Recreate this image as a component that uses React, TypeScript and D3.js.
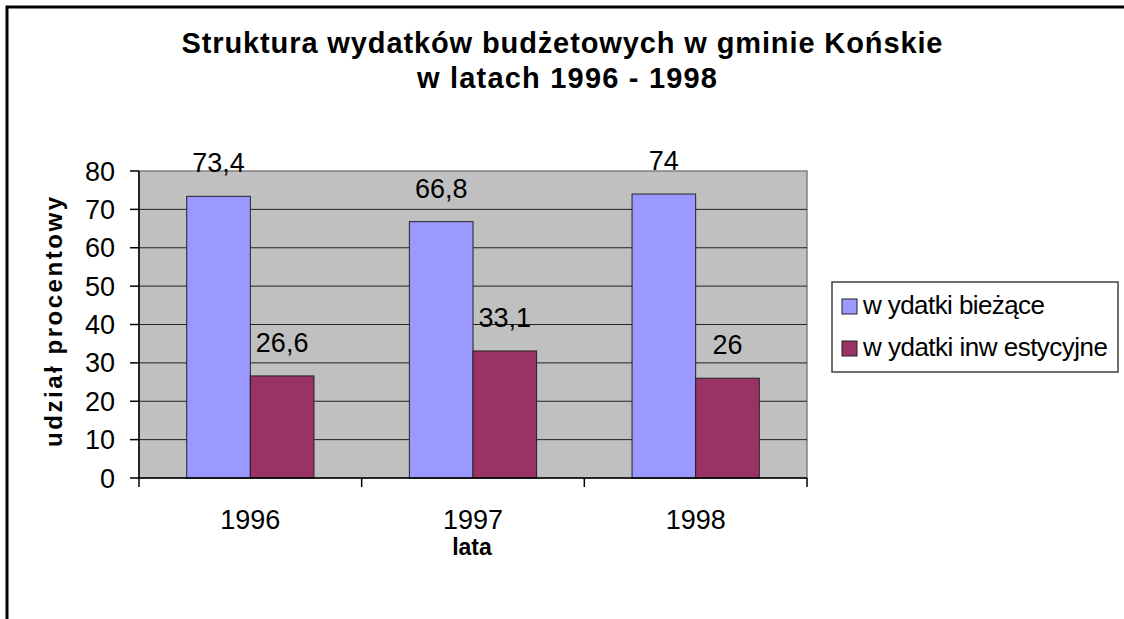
import * as d3 from "d3";
import React from "react";

// dane
const years = ["1996", "1997", "1998"];
const seriesNames = ["w ydatki bieżące", "w ydatki inw estycyjne"];
const biezace = [73.4, 66.8, 74];
const inwestycyjne = [26.6, 33.1, 26];
const yTicks = [0, 10, 20, 30, 40, 50, 60, 70, 80];
const colors = ["#9999FF", "#993366"];
const legendLen = [182, 245];

const W = 1124;
const H = 619;
const plot = { left: 139, right: 807, top: 171, bottom: 478 };
const font = "'Liberation Sans', Arial, sans-serif";

const App = () => {
  const values = [biezace, inwestycyjne];

  const x0 = d3.scaleBand().domain(years).range([plot.left, plot.right]).padding(0);
  const barW = x0.bandwidth() / 3.5;
  const x1 = d3.scaleBand().domain(seriesNames).range([0, barW * 2]).padding(0);
  const y = d3.scaleLinear().domain([0, 80]).range([plot.bottom, plot.top]);

  const boundaries = years.map((yr) => x0(yr)!).concat([plot.right]);

  return (
    <svg width={W} height={H} style={{ position: "absolute", left: 0, top: 0 }} fontFamily={font}>
      <rect x={0} y={0} width={W} height={H} fill="#fff" />
      {/* ramka */}
      <rect x={7} y={7} width={1300} height={800} fill="none" stroke="#000" strokeWidth={3} />

      {/* tytul */}
      <text x={562} y={53} textAnchor="middle" fontSize={29} fontWeight="bold" textLength={761} lengthAdjust="spacing">
        Struktura wydatków budżetowych w gminie Końskie
      </text>
      <text x={567} y={88} textAnchor="middle" fontSize={29} fontWeight="bold" textLength={300} lengthAdjust="spacing">
        w latach 1996 - 1998
      </text>

      {/* obszar wykresu */}
      <rect
        x={plot.left}
        y={plot.top}
        width={plot.right - plot.left}
        height={plot.bottom - plot.top}
        fill="#C0C0C0"
        stroke="#808080"
        strokeWidth={1.5}
      />
      {yTicks.filter((t) => t > 0 && t < 80).map((t) => (
        <line key={t} x1={plot.left} x2={plot.right} y1={y(t)} y2={y(t)} stroke="#222" strokeWidth={1} />
      ))}

      {/* slupki */}
      {years.map((yr, i) => {
        const gx = x0(yr)! + (x0.bandwidth() - barW * 2) / 2;
        return (
          <g key={yr} transform={`translate(${gx},0)`}>
            {seriesNames.map((s, j) => {
              const v = values[j][i];
              return (
                <g key={s}>
                  <rect
                    x={x1(s)!}
                    y={y(v)}
                    width={x1.bandwidth()}
                    height={y(0) - y(v)}
                    fill={colors[j]}
                    stroke="#222"
                    strokeWidth={1}
                  />
                  <text
                    x={x1(s)! + x1.bandwidth() / 2}
                    y={y(v) - 24}
                    textAnchor="middle"
                    fontSize={27}
                  >
                    {String(v).replace(".", ",")}
                  </text>
                </g>
              );
            })}
          </g>
        );
      })}

      {/* osie */}
      <line x1={plot.left} x2={plot.left} y1={plot.top} y2={plot.bottom} stroke="#000" strokeWidth={1.5} />
      <line x1={plot.left} x2={plot.right} y1={plot.bottom} y2={plot.bottom} stroke="#000" strokeWidth={1.5} />
      {yTicks.map((t) => (
        <g key={t}>
          <line x1={plot.left - 9} x2={plot.left} y1={y(t)} y2={y(t)} stroke="#000" strokeWidth={1.5} />
          <text x={115} y={y(t) + 9.5} textAnchor="end" fontSize={27}>
            {t}
          </text>
        </g>
      ))}
      {boundaries.map((bx, i) => (
        <line key={i} x1={bx} x2={bx} y1={plot.bottom} y2={plot.bottom + 9} stroke="#000" strokeWidth={1.5} />
      ))}
      {years.map((yr) => (
        <text key={yr} x={x0(yr)! + x0.bandwidth() / 2} y={529} textAnchor="middle" fontSize={27}>
          {yr}
        </text>
      ))}

      {/* tytuly osi */}
      <text x={472} y={555} textAnchor="middle" fontSize={23} fontWeight="bold">
        lata
      </text>
      <text
        transform="translate(62,322) rotate(-90)"
        textAnchor="middle"
        fontSize={24}
        fontWeight="bold"
        textLength={250}
        lengthAdjust="spacing"
      >
        udział procentowy
      </text>

      {/* legenda */}
      <rect x={832} y={282} width={286} height={90} fill="#fff" stroke="#404040" strokeWidth={1.5} />
      {seriesNames.map((s, j) => (
        <g key={s}>
          <rect x={842} y={299 + j * 42} width={15} height={15} fill={colors[j]} stroke="#222" strokeWidth={1} />
          <text x={863} y={314 + j * 42} fontSize={26} textLength={legendLen[j]} lengthAdjust="spacing">
            {s}
          </text>
        </g>
      ))}
    </svg>
  );
};

export default App;
